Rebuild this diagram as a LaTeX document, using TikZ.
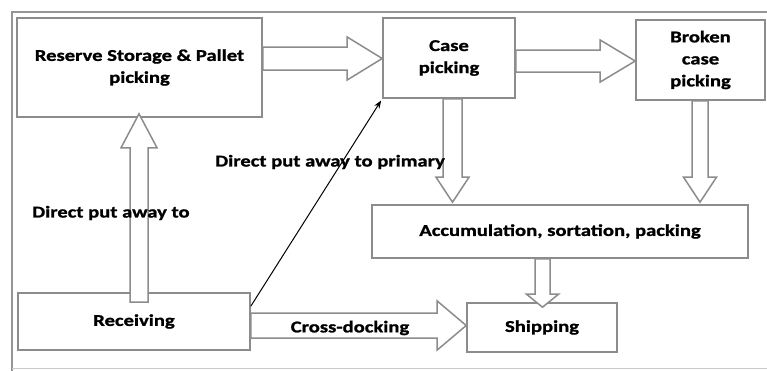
\documentclass[tikz,border=0pt]{standalone}
\usepackage{fontspec}
\setmainfont{Carlito}[FakeStretch=1.25,BoldFeatures={FakeBold=1.2}]
\usetikzlibrary{calc,arrows.meta}
\definecolor{boxc}{RGB}{140,140,140}
\definecolor{framec}{RGB}{150,150,150}
\newcommand\hblk[6]{%
  \draw[blk] let \p1=(#1), \p2=(#2) in
  (\x1,{-(#3-#4)*1pt}) -- ({\x2-#6pt},{-(#3-#4)*1pt}) -- ({\x2-#6pt},{-(#3-#5)*1pt})
  -- (\x2,{-#3pt}) -- ({\x2-#6pt},{-(#3+#5)*1pt}) -- ({\x2-#6pt},{-(#3+#4)*1pt})
  -- (\x1,{-(#3+#4)*1pt}) -- cycle;}
\newcommand\vblk[6]{%
  \draw[blk] let \p1=(#1), \p2=(#2) in
  ({(#3-#4)*1pt},\y1) -- ({(#3-#4)*1pt},{\y2+(#6pt)}) -- ({(#3-#5)*1pt},{\y2+(#6pt)})
  -- ({#3pt},\y2) -- ({(#3+#5)*1pt},{\y2+(#6pt)}) -- ({(#3+#4)*1pt},{\y2+(#6pt)})
  -- ({(#3+#4)*1pt},\y1) -- cycle;}
\begin{document}
\begin{tikzpicture}[x=1pt,y=-1pt,
  txt/.style={font=\fontsize{16.5}{22}\selectfont\bfseries, text=black},
  procbox/.style={txt, draw=boxc, line width=1.6pt, inner sep=0pt, align=center, fill=white},
  blk/.style={draw=boxc, line width=1.5pt, fill=white, line join=miter},
  thinarrow/.style={draw=black, line width=1pt, -{Stealth[length=8pt,width=6pt]}, shorten >=2pt}]
\useasboundingbox (0,0) rectangle (767,370);
\clip (0,0) rectangle (767,370);
% frame
\draw[framec, line width=1.3pt] (12,372) -- (12,12) -- (780,12);
\draw[framec!50, line width=1pt] (12,368) -- (780,368);
% boxes
\node[procbox, minimum width=245pt, minimum height=99pt] (res) at (139.5,67.5) {Reserve Storage \& Pallet\\picking};
\node[procbox, minimum width=132pt, minimum height=80pt] (case) at (449,58) {Case\\picking};
\node[procbox, minimum width=129pt, minimum height=80pt] (broken) at (700.5,60) {Broken\\case\\picking};
\node[procbox, minimum width=376pt, minimum height=53pt] (acc) at (560,231.5) {Accumulation, sortation, packing};
\node[procbox, minimum width=150pt, minimum height=49pt] (ship) at (542,327.5) {Shipping};
\node[procbox, minimum width=232pt, minimum height=57pt] (recv) at (134,321.5) {Receiving};
% block arrows
\hblk{res.east}{case.west}{58.5}{11.5}{21.5}{35}
\hblk{case.east}{broken.west}{61}{11}{21}{35}
\vblk{[yshift=-10pt]recv.north}{[yshift=4pt]res.south}{139}{9}{18}{-34}
\vblk{case.south}{[yshift=2pt]acc.north}{452.5}{9.5}{16.5}{25}
\vblk{broken.south}{[yshift=2pt]acc.north}{700}{8}{16.5}{25}
\vblk{acc.south}{[yshift=-5pt]ship.north}{542.5}{7.5}{16}{13}
\hblk{recv.east}{ship.west}{325.5}{12.5}{24.5}{29}
% thin arrow
\draw[thinarrow] ([yshift=-14pt]recv.north east) -- (case.south west);
% labels
\node[txt, anchor=west, inner sep=0pt] (lprim) at (215,162) {Direct put away to primary};
\node[txt, anchor=west, inner sep=0pt] (lres) at (32,213) {Direct put away to};
\node[txt, inner sep=0pt] (lcross) at (350,328) {Cross-docking};
\end{tikzpicture}
\end{document}
